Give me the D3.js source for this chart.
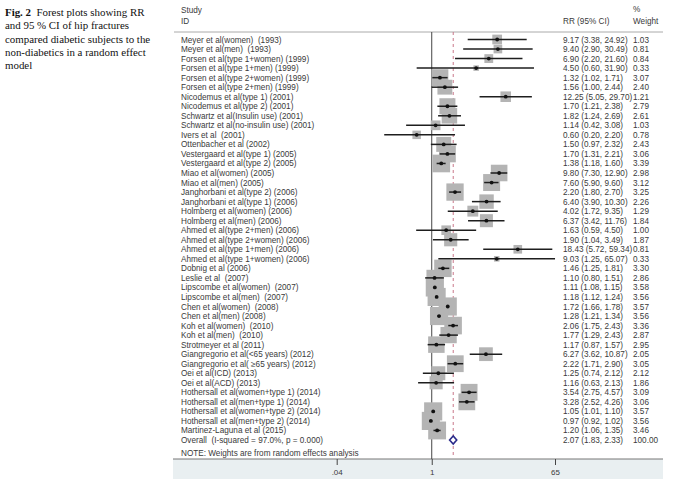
<!DOCTYPE html>
<html><head><meta charset="utf-8">
<script src="https://cdn.jsdelivr.net/npm/d3@7"></script>
<style>body{margin:0;background:#fff}svg{display:block}text{white-space:pre}</style>
</head><body>
<script>
const studies = [
"Meyer et al(women)  (1993)","Meyer et al(men)  (1993)","Forsen et al(type 1+women) (1999)","Forsen et al(type 1+men) (1999)",
"Forsen et al(type 2+women) (1999)","Forsen et al(type 2+men) (1999)","Nicodemus et al(type 1) (2001)","Nicodemus et al(type 2) (2001)",
"Schwartz et al(Insulin use) (2001)","Schwartz et al(no-insulin use) (2001)","Ivers et al  (2001)","Ottenbacher et al (2002)",
"Vestergaard et al(type 1) (2005)","Vestergaard et al(type 2) (2005)","Miao et al(women) (2005)","Miao et al(men) (2005)",
"Janghorbani et al(type 2) (2006)","Janghorbani et al(type 1) (2006)","Holmberg et al(women) (2006)","Holmberg et al(men) (2006)",
"Ahmed et al(type 2+men) (2006)","Ahmed et al(type 2+women) (2006)","Ahmed et al(type 1+men) (2006)","Ahmed et al(type 1+women) (2006)",
"Dobnig et al (2006)","Leslie et al  (2007)","Lipscombe et al(women)  (2007)","Lipscombe et al(men)  (2007)",
"Chen et al(women)  (2008)","Chen et al(men) (2008)","Koh et al(women)  (2010)","Koh et al(men)  (2010)",
"Strotmeyer et al (2011)","Giangregorio et al(<65 years) (2012)","Giangregorio et al( ≥65 years) (2012)","Oei et al(ICD) (2013)",
"Oei et al(ACD) (2013)","Hothersall et al(women+type 1) (2014)","Hothersall et al(men+type 1) (2014)","Hothersall et al(women+type 2) (2014)",
"Hothersall et al(men+type 2) (2014)","Martinez-Laguna et al (2015)"];
const rr = [9.17,9.40,6.90,4.50,1.32,1.56,12.25,1.70,1.82,1.14,0.60,1.50,1.70,1.38,9.80,7.60,2.20,6.40,4.02,6.37,1.63,1.90,18.43,9.03,1.46,1.10,1.11,1.18,1.72,1.28,2.06,1.77,1.17,6.27,2.22,1.25,1.16,3.54,3.28,1.05,0.97,1.20];
const lo = [3.38,2.90,2.20,0.60,1.02,1.00,5.05,1.21,1.24,0.42,0.20,0.97,1.31,1.18,7.30,5.90,1.80,3.90,1.72,3.42,0.59,1.04,5.72,1.25,1.25,0.80,1.08,1.12,1.66,1.21,1.75,1.29,0.87,3.62,1.71,0.74,0.63,2.75,2.52,1.01,0.92,1.06];
const hi = [24.92,30.49,21.60,31.90,1.71,2.44,29.70,2.38,2.69,3.08,2.20,2.32,2.21,1.60,12.90,9.60,2.70,10.30,9.35,11.76,4.50,3.49,59.34,65.07,1.81,1.51,1.15,1.24,1.78,1.34,2.43,2.43,1.57,10.87,2.90,2.12,2.13,4.57,4.26,1.10,1.02,1.35];
const weight = [1.03,0.81,0.84,0.33,3.07,2.40,1.21,2.79,2.61,1.03,0.78,2.43,3.06,3.39,2.98,3.12,3.25,2.26,1.29,1.84,1.00,1.87,0.81,0.33,3.30,2.86,3.58,3.56,3.57,3.56,3.36,2.87,2.95,2.05,3.05,2.12,1.86,3.09,3.06,3.57,3.56,3.46];
const overall = {label:"Overall  (I-squared = 97.0%, p = 0.000)", rr:2.07, lo:1.83, hi:2.33, weight:100.00};
const tickValues = [0.04, 1, 65];
const tickLabels = [".04", "1", "65"];
const captionLines = ["Forest plots showing RR","and 95 % CI of hip fractures","compared diabetic subjects to the","non-diabetics in a random effect","model"];

const fmt = d3.format(".2f");
const W = 678, H = 492;
const svg = d3.select("body").append("svg").attr("width", W).attr("height", H);

// caption
const cap = svg.append("g").attr("font-family","'Liberation Serif','Times New Roman',serif").attr("font-size",10.9).attr("fill","#111");
captionLines.forEach((t,i)=>{
  const tx = cap.append("text").attr("x",5).attr("y",16 + i*13.3);
  if(i===0){ tx.append("tspan").attr("font-weight","bold").text("Fig. 2"); tx.append("tspan").text("  " + t); }
  else tx.text(t);
});

const x = d3.scaleLog().domain([0.04, 65]).range([336.7, 555]);
const y = d3.scaleLinear().domain([0, studies.length]).range([39.5, 440]);
const k = 9.6;
const txtCol = "#3a3a3a";
const font = "'Liberation Sans',Arial,sans-serif";

// bottom band and axis line
svg.append("rect").attr("x",173).attr("y",459).attr("width",490).attr("height",20).attr("fill","#e9eff1");
svg.append("line").attr("x1",173).attr("x2",663).attr("y1",459).attr("y2",459).attr("stroke","#777").attr("stroke-width",1);
// header line
svg.append("line").attr("x1",174).attr("x2",663).attr("y1",32).attr("y2",32).attr("stroke","#aaa").attr("stroke-width",1);

// headers
const hd = svg.append("g").attr("font-family",font).attr("font-size",8.2).attr("fill",txtCol);
hd.append("text").attr("x",181).attr("y",13).text("Study");
hd.append("text").attr("x",181).attr("y",23.5).text("ID");
hd.append("text").attr("x",563).attr("y",23.5).text("RR (95% CI)");
hd.append("text").attr("x",633).attr("y",12).text("%");
hd.append("text").attr("x",633).attr("y",23.5).text("Weight");

// reference lines
svg.append("line").attr("x1",x(1)).attr("x2",x(1)).attr("y1",32).attr("y2",459).attr("stroke","#444").attr("stroke-width",1);
svg.append("line").attr("x1",x(overall.rr)).attr("x2",x(overall.rr)).attr("y1",32).attr("y2",458)
  .attr("stroke","#c9788a").attr("stroke-width",1).attr("stroke-dasharray","3,3");

// axis
const axis = d3.axisBottom(x).tickValues(tickValues).tickFormat((d,i)=>tickLabels[i]).tickSize(6).tickPadding(4);
const ag = svg.append("g").attr("transform","translate(0,459)").call(axis);
ag.select(".domain").remove();
ag.selectAll(".tick line").attr("stroke","#444");
ag.selectAll(".tick text").attr("font-family",font).attr("font-size",8).attr("fill",txtCol);

const data = studies.map((s,i)=>({s, rr:rr[i], lo:lo[i], hi:hi[i], w:weight[i], i}));

// boxes
svg.append("g").selectAll("rect").data(data).join("rect")
  .attr("x",d=>x(d.rr)-k*Math.sqrt(d.w)/2).attr("y",d=>y(d.i)-k*Math.sqrt(d.w)/2)
  .attr("width",d=>k*Math.sqrt(d.w)).attr("height",d=>k*Math.sqrt(d.w)).attr("fill","#b4b4b4");
// CI lines
svg.append("g").selectAll("line").data(data).join("line")
  .attr("x1",d=>x(d.lo)).attr("x2",d=>x(d.hi)).attr("y1",d=>y(d.i)).attr("y2",d=>y(d.i))
  .attr("stroke","#1e1e1e").attr("stroke-width",1.5);
// points
svg.append("g").selectAll("circle").data(data).join("circle")
  .attr("cx",d=>x(d.rr)).attr("cy",d=>y(d.i)).attr("r",1.9).attr("fill","#111");

// overall diamond
const oy = y(studies.length);
svg.append("path").attr("d",`M${x(overall.lo)},${oy}L${x(overall.rr)},${oy-4}L${x(overall.hi)},${oy}L${x(overall.rr)},${oy+4}Z`)
  .attr("fill","#fff").attr("stroke","#2a2a8a").attr("stroke-width",1.6);

// text columns
const tg = svg.append("g").attr("font-family",font).attr("font-size",8.2).attr("fill",txtCol);
const rows = data.concat([{s:overall.label, rr:overall.rr, lo:overall.lo, hi:overall.hi, w:overall.weight, i:studies.length}]);
tg.selectAll("text.s").data(rows).join("text").attr("class","s").attr("x",181).attr("y",d=>y(d.i)+3).text(d=>d.s);
tg.selectAll("text.r").data(rows).join("text").attr("class","r").attr("x",563).attr("y",d=>y(d.i)+3)
  .text(d=>`${fmt(d.rr)} (${fmt(d.lo)}, ${fmt(d.hi)})`);
tg.selectAll("text.w").data(rows).join("text").attr("class","w").attr("x",633).attr("y",d=>y(d.i)+3).text(d=>fmt(d.w));
tg.append("text").attr("x",181).attr("y",456).text("NOTE: Weights are from random effects analysis");
</script>
</body></html>
